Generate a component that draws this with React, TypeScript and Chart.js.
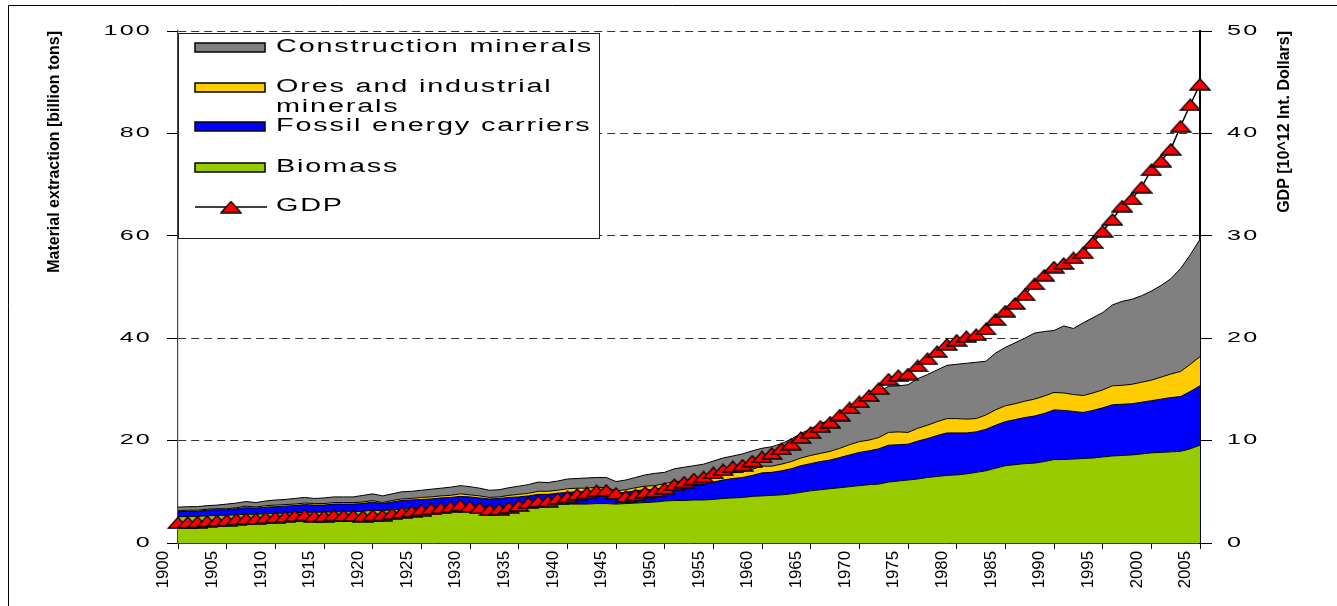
import React, { useEffect, useRef } from 'react';
import { Chart, registerables, Scale } from 'chart.js';

Chart.register(...registerables);

// ---------------- DATA ----------------
const years: number[] = Array.from({ length: 106 }, (_, i) => 1900 + i);

// Material extraction, billion tons (stack layers, bottom to top)
const biomass = [
  5.1, 5.2, 5.2, 5.3, 5.4, 5.4, 5.5, 5.6, 5.6, 5.7,
  5.8, 5.8, 5.9, 6.0, 6.0, 6.0, 6.1, 6.1, 6.1, 6.2,
  6.4, 6.3, 6.5, 6.6, 6.7, 6.8, 6.9, 7.0, 7.1, 7.2,
  7.2, 7.1, 7.0, 7.0, 7.1, 7.2, 7.3, 7.5, 7.6, 7.6,
  7.6, 7.6, 7.6, 7.7, 7.7, 7.6, 7.7, 7.8, 7.9, 8.0,
  8.2, 8.3, 8.3, 8.4, 8.4, 8.5, 8.7, 8.8, 8.9, 9.1,
  9.2, 9.3, 9.4, 9.6, 9.9, 10.2, 10.4, 10.6, 10.8, 11.0,
  11.2, 11.4, 11.5, 11.9, 12.1, 12.3, 12.5, 12.8, 13.0, 13.2,
  13.3, 13.5, 13.8, 14.1, 14.6, 15.1, 15.3, 15.5, 15.6, 15.9,
  16.3, 16.3, 16.4, 16.5, 16.6, 16.8, 17.0, 17.1, 17.2, 17.4,
  17.6, 17.7, 17.8, 17.9, 18.4, 19.1,
];

const fossil = [
  1.0, 1.0, 1.0, 1.1, 1.1, 1.1, 1.2, 1.3, 1.2, 1.3,
  1.3, 1.4, 1.4, 1.5, 1.4, 1.4, 1.5, 1.5, 1.5, 1.5,
  1.6, 1.4, 1.5, 1.7, 1.7, 1.7, 1.7, 1.8, 1.8, 1.9,
  1.8, 1.7, 1.6, 1.7, 1.8, 1.8, 1.9, 2.0, 1.9, 2.1,
  2.3, 2.4, 2.4, 2.5, 2.4, 2.1, 2.2, 2.4, 2.5, 2.5,
  2.6, 2.8, 2.9, 3.0, 3.1, 3.4, 3.6, 3.8, 3.9, 4.1,
  4.5, 4.5, 4.7, 4.9, 5.2, 5.3, 5.5, 5.6, 5.9, 6.2,
  6.5, 6.6, 6.9, 7.2, 7.1, 7.0, 7.4, 7.6, 8.0, 8.3,
  8.2, 8.0, 7.9, 8.1, 8.4, 8.6, 8.8, 9.0, 9.2, 9.4,
  9.7, 9.6, 9.3, 9.0, 9.3, 9.6, 10.0, 10.0, 10.0, 10.1,
  10.2, 10.4, 10.6, 10.7, 11.2, 11.6,
];

const ores = [
  0.2, 0.2, 0.2, 0.2, 0.2, 0.2, 0.2, 0.3, 0.2, 0.3,
  0.3, 0.3, 0.3, 0.3, 0.3, 0.3, 0.3, 0.3, 0.3, 0.3,
  0.3, 0.2, 0.3, 0.3, 0.3, 0.4, 0.4, 0.4, 0.4, 0.5,
  0.4, 0.4, 0.3, 0.3, 0.4, 0.5, 0.5, 0.6, 0.6, 0.6,
  0.7, 0.7, 0.7, 0.7, 0.7, 0.5, 0.5, 0.6, 0.7, 0.7,
  0.8, 0.9, 0.9, 0.9, 0.9, 1.0, 1.1, 1.1, 1.1, 1.2,
  1.3, 1.2, 1.3, 1.4, 1.5, 1.6, 1.6, 1.7, 1.8, 2.0,
  2.1, 2.1, 2.2, 2.5, 2.5, 2.3, 2.5, 2.6, 2.7, 2.8,
  2.8, 2.7, 2.6, 2.8, 3.0, 3.1, 3.1, 3.2, 3.3, 3.4,
  3.4, 3.4, 3.3, 3.3, 3.4, 3.5, 3.7, 3.7, 3.8, 3.9,
  4.0, 4.3, 4.6, 4.9, 5.3, 5.7,
];

const construction = [
  0.7, 0.7, 0.7, 0.7, 0.7, 0.9, 0.9, 0.9, 0.9, 0.9,
  1.0, 1.0, 1.1, 1.1, 1.0, 1.1, 1.1, 1.1, 1.1, 1.3,
  1.3, 1.3, 1.3, 1.4, 1.4, 1.4, 1.5, 1.5, 1.6, 1.6,
  1.6, 1.5, 1.4, 1.4, 1.5, 1.6, 1.7, 1.8, 1.7, 1.8,
  1.9, 1.9, 2.0, 1.9, 2.0, 1.8, 1.9, 2.0, 2.2, 2.4,
  2.2, 2.5, 2.7, 2.8, 3.0, 3.1, 3.2, 3.3, 3.5, 3.6,
  3.5, 3.8, 4.0, 4.4, 4.8, 5.2, 5.8, 6.1, 6.6, 7.1,
  7.7, 8.2, 8.9, 9.0, 9.0, 9.3, 9.7, 9.9, 10.1, 10.4,
  10.6, 10.9, 11.0, 10.5, 11.1, 11.4, 11.9, 12.3, 12.9, 12.6,
  12.1, 13.1, 12.9, 14.2, 14.7, 15.1, 15.8, 16.4, 16.6, 16.9,
  17.4, 17.9, 18.6, 20.1, 21.4, 22.9,
];

// GDP, 10^12 international dollars (right axis)
const gdp = [
  1.97, 2.02, 2.05, 2.13, 2.17, 2.23, 2.33, 2.38, 2.37, 2.46,
  2.52, 2.57, 2.66, 2.73, 2.62, 2.63, 2.72, 2.70, 2.68, 2.62,
  2.72, 2.72, 2.87, 2.99, 3.09, 3.22, 3.33, 3.42, 3.54, 3.70,
  3.55, 3.42, 3.25, 3.30, 3.48, 3.66, 3.93, 4.07, 4.10, 4.35,
  4.50, 4.75, 4.90, 5.10, 5.15, 4.85, 4.55, 4.70, 4.95, 5.05,
  5.34, 5.70, 5.95, 6.25, 6.45, 6.85, 7.15, 7.45, 7.60, 8.00,
  8.40, 8.75, 9.20, 9.65, 10.30, 10.80, 11.40, 11.80, 12.50, 13.20,
  13.80, 14.40, 15.10, 16.00, 16.35, 16.50, 17.30, 18.00, 18.70, 19.40,
  19.80, 20.15, 20.35, 20.90, 21.85, 22.65, 23.40, 24.25, 25.30, 26.15,
  26.95, 27.30, 27.85, 28.35, 29.35, 30.45, 31.60, 32.90, 33.60, 34.75,
  36.45, 37.30, 38.45, 40.70, 42.80, 44.80,
];

const xTickYears = [
  1900, 1905, 1910, 1915, 1920, 1925, 1930, 1935, 1940, 1945, 1950,
  1955, 1960, 1965, 1970, 1975, 1980, 1985, 1990, 1995, 2000, 2005,
];
const leftTicks = [0, 20, 40, 60, 80, 100];
const rightTicks = [0, 10, 20, 30, 40, 50];

const leftTitle = 'Material extraction [billion tons]';
const rightTitle = 'GDP [10^12 Int. Dollars]';

const legendItems = [
  { lines: ['Construction minerals'], color: '#808080' },
  { lines: ['Ores and industrial', 'minerals'], color: '#FFCC00' },
  { lines: ['Fossil energy carriers'], color: '#0000FF' },
  { lines: ['Biomass'], color: '#99CC00' },
];

const FONT = '"Liberation Sans", Arial, Helvetica, sans-serif';

// ---------------- helpers ----------------
function makeTriangle(): HTMLCanvasElement {
  const w = 22;
  const h = 13;
  const c = document.createElement('canvas');
  c.width = w;
  c.height = h;
  const g = c.getContext('2d')!;
  g.beginPath();
  g.moveTo(w / 2, 1);
  g.lineTo(w - 1, h - 1);
  g.lineTo(1, h - 1);
  g.closePath();
  g.fillStyle = '#FF0000';
  g.fill();
  g.lineWidth = 1.3;
  g.strokeStyle = '#000';
  g.stroke();
  return c;
}

function patchLabels(scale: any, o: { axis: 'x' | 'y'; sx?: number; sy?: number; ls: number; dx?: number; dy?: number }) {
  if (!scale) return;
  scale.drawLabels = function (area: any) {
    const ctx = this.ctx as CanvasRenderingContext2D;
    const items = this.getLabelItems(area);
    if (!items || !items.length) return;
    const [ax, ay] = items[0].options.translation;
    ctx.save();
    ctx.translate(o.dx || 0, o.dy || 0);
    if (o.axis === 'y') {
      ctx.translate(ax, 0);
      ctx.scale(o.sx || 1, 1);
      ctx.translate(-ax, 0);
    } else {
      ctx.translate(0, ay);
      ctx.scale(1, o.sy || 1);
      ctx.translate(0, -ay);
    }
    try {
      (ctx as any).letterSpacing = o.ls + 'px';
    } catch (e) {
      /* ignore */
    }
    (Scale.prototype as any).drawLabels.call(this, area);
    ctx.restore();
  };
}

function stretchText(ctx: CanvasRenderingContext2D, text: string, x: number, y: number, sx: number, ls: number) {
  ctx.save();
  ctx.translate(x, y);
  ctx.scale(sx, 1);
  try {
    (ctx as any).letterSpacing = ls + 'px';
  } catch (e) {
    /* ignore */
  }
  ctx.fillText(text, 0, 0);
  ctx.restore();
}

export default function App() {
  const ref = useRef<HTMLCanvasElement | null>(null);

  useEffect(() => {
    if (!ref.current) return;
    const tri = makeTriangle();

    const labelPatch = {
      id: 'labelPatch',
      beforeDraw(chart: any) {
        patchLabels(chart.scales.y, { axis: 'y', sx: 1.8, ls: 1.2, dx: 2 });
        patchLabels(chart.scales.y2, { axis: 'y', sx: 1.8, ls: 1.2 });
        patchLabels(chart.scales.x, { axis: 'x', sy: 1.05, ls: 0, dx: -14 });
      },
    };

    const decor = {
      id: 'decor',
      afterDraw(chart: any) {
        const ctx = chart.ctx as CanvasRenderingContext2D;
        ctx.save();
        // outer frame (top and left edges)
        ctx.strokeStyle = '#000';
        ctx.lineWidth = 1;
        ctx.beginPath();
        ctx.moveTo(8.5, 606);
        ctx.lineTo(8.5, 5.5);
        ctx.lineTo(1337, 5.5);
        ctx.stroke();

        // legend box
        const bx = 178.5, by = 33.5, bw = 421, bh = 205;
        ctx.fillStyle = '#fff';
        ctx.fillRect(bx, by, bw, bh);
        ctx.strokeStyle = '#222';
        ctx.lineWidth = 1;
        ctx.strokeRect(bx, by, bw, bh);

        ctx.font = `18px ${FONT}`;
        ctx.fillStyle = '#000';
        ctx.textAlign = 'left';
        ctx.textBaseline = 'alphabetic';
        const sx = 1.6;
        const natural = ctx.measureText(legendItems[0].lines[0]).width;
        const ls = Math.max(0, (317 / sx - natural) / legendItems[0].lines[0].length);

        const swatchY = [43, 83, 122, 163];
        const baseY = [[52], [92, 112], [131], [172]];
        legendItems.forEach((it, i) => {
          ctx.fillStyle = it.color;
          ctx.fillRect(195, swatchY[i], 70, 9);
          ctx.strokeStyle = '#000';
          ctx.lineWidth = 1.5;
          ctx.strokeRect(195, swatchY[i], 70, 9);
          ctx.fillStyle = '#000';
          it.lines.forEach((ln, j) => stretchText(ctx, ln, 276, baseY[i][j], sx, ls));
        });
        // GDP legend entry
        ctx.strokeStyle = '#000';
        ctx.lineWidth = 1.3;
        ctx.beginPath();
        ctx.moveTo(195, 207);
        ctx.lineTo(267, 207);
        ctx.stroke();
        ctx.drawImage(tri, 231 - tri.width / 2, 207 - tri.height / 2);
        ctx.fillStyle = '#000';
        stretchText(ctx, 'GDP', 276, 211, sx, ls);

        // right axis title (reads bottom to top)
        ctx.save();
        ctx.translate(1285, 31);
        ctx.rotate(-Math.PI / 2);
        ctx.font = `bold 16px ${FONT}`;
        ctx.textAlign = 'right';
        ctx.textBaseline = 'middle';
        ctx.fillStyle = '#000';
        ctx.fillText(rightTitle, 0, 0);
        ctx.restore();

        ctx.restore();
      },
    };

    const area = (label: string, values: number[], color: string, fill: any) => ({
      type: 'line' as const,
      label,
      data: years.map((yr, i) => ({ x: yr, y: values[i] })),
      yAxisID: 'y',
      xAxisID: 'x',
      backgroundColor: color,
      borderColor: '#000',
      borderWidth: 1,
      fill,
      pointRadius: 0,
      tension: 0,
      order: 1,
    });

    const chart = new Chart(ref.current, {
      type: 'line',
      data: {
        datasets: [
          area('Biomass', biomass, '#99CC00', 'origin'),
          area('Fossil energy carriers', fossil, '#0000FF', '-1'),
          area('Ores and industrial minerals', ores, '#FFCC00', '-1'),
          area('Construction minerals', construction, '#808080', '-1'),
          {
            type: 'line',
            label: 'GDP',
            data: years.map((yr, i) => ({ x: yr, y: gdp[i] })),
            yAxisID: 'y2',
            xAxisID: 'x',
            borderColor: '#000',
            borderWidth: 1.5,
            fill: false,
            tension: 0,
            pointStyle: tri as any,
            pointRadius: 6,
            clip: false as any,
            order: 0,
          } as any,
        ],
      },
      options: {
        responsive: false,
        animation: false,
        events: [],
        layout: { padding: { top: 31, left: 0, right: 0, bottom: 0 } },
        plugins: { legend: { display: false }, tooltip: { enabled: false } },
        scales: {
          x: {
            type: 'linear',
            position: 'bottom',
            min: 1900,
            max: 2005,
            afterBuildTicks: (s: any) => {
              s.ticks = xTickYears.map((v) => ({ value: v }));
            },
            ticks: {
              autoSkip: false,
              minRotation: 90,
              maxRotation: 90,
              padding: 2,
              color: '#000',
              font: { family: FONT, size: 16 },
              callback: (v: any) => String(v),
            },
            grid: { drawOnChartArea: false, drawTicks: true, tickLength: 6, tickColor: '#000', color: '#000' },
            border: { color: '#333', width: 1 },
            afterFit: (s: any) => {
              s.height = 63;
            },
          },
          y: {
            type: 'linear',
            position: 'left',
            stacked: true,
            min: 0,
            max: 100,
            afterBuildTicks: (s: any) => {
              s.ticks = leftTicks.map((v) => ({ value: v }));
            },
            ticks: { padding: 17, color: '#000', font: { family: FONT, size: 14 } },
            grid: {
              color: (c: any) => (c.tick && c.tick.value === 0 ? 'rgba(0,0,0,0)' : '#333'),
              lineWidth: 1,
              tickLength: 11,
              tickColor: '#000',
            },
            border: { color: '#444', width: 1.2, dash: [8, 5] },
            title: {
              display: true,
              text: leftTitle,
              align: 'end',
              color: '#000',
              font: { family: FONT, size: 16, weight: 'bold' },
              padding: { top: 45, bottom: 0 },
            },
            afterFit: (s: any) => {
              s.width = 178;
            },
          },
          y2: {
            type: 'linear',
            position: 'right',
            min: 0,
            max: 50,
            afterBuildTicks: (s: any) => {
              s.ticks = rightTicks.map((v) => ({ value: v }));
            },
            ticks: { padding: 15, color: '#000', font: { family: FONT, size: 14 } },
            grid: { drawOnChartArea: false, tickLength: 12, tickColor: '#000', color: '#000' },
            border: { color: '#000', width: 2 },
            afterFit: (s: any) => {
              s.width = 137;
            },
          },
        },
      } as any,
      plugins: [labelPatch, decor],
    });

    return () => {
      chart.destroy();
    };
  }, []);

  return (
    <div style={{ position: 'absolute', left: 0, top: 0, width: 1337, height: 606, background: '#fff' }}>
      <canvas ref={ref} width={1337} height={606} style={{ width: 1337, height: 606, display: 'block' }} />
    </div>
  );
}
